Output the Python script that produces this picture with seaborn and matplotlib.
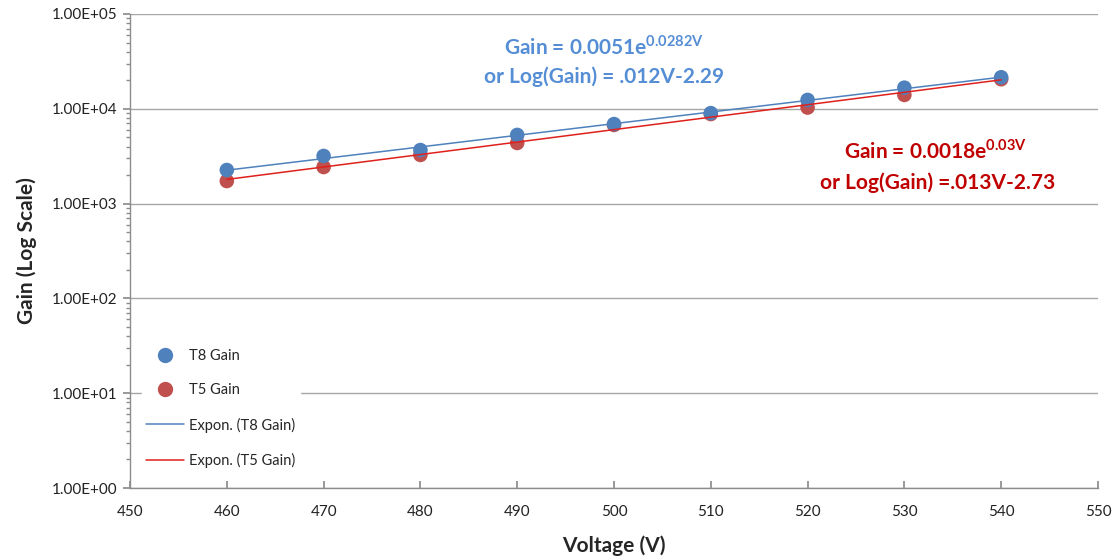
import numpy as np
import pandas as pd
import matplotlib
matplotlib.use("Agg")
import matplotlib.pyplot as plt
import matplotlib.ticker as mticker
from matplotlib.lines import Line2D
import seaborn as sns

voltage = [460, 470, 480, 490, 500, 510, 520, 530, 540]
t8_gain = [2260, 3180, 3670, 5300, 6900, 9000, 12400, 16700, 21500]
t5_gain = [1730, 2430, 3260, 4360, 6750, 8800, 10300, 14000, 20500]
ytick_vals = [1, 10, 100, 1000, 10000, 100000]
ytick_labels = ["1.00E+00", "1.00E+01", "1.00E+02", "1.00E+03", "1.00E+04", "1.00E+05"]
xtick_vals = [450, 460, 470, 480, 490, 500, 510, 520, 530, 540, 550]

BLUE = "#4F81BD"
RED_M = "#C0504D"
RED_L = "#E0201B"
BLUE_T = "#558ED5"
RED_T = "#C00000"

sns.set_theme(style="white")
plt.rcParams["font.family"] = ["Lato", "DejaVu Sans"]
plt.rcParams["mathtext.fontset"] = "custom"
plt.rcParams["mathtext.rm"] = "Lato"
plt.rcParams["mathtext.bf"] = "Lato:bold"

fig = plt.figure(figsize=(11.19, 5.59), dpi=100)
ax = fig.add_axes([0.1162, 0.127, 0.865, 0.848])

v = np.array(voltage, dtype=float)
fit8 = np.polyfit(v, np.log(t8_gain), 1)
fit5 = np.polyfit(v, np.log(t5_gain), 1)
df_fit = pd.DataFrame({
    "V": np.concatenate([v, v]),
    "G": np.concatenate([np.exp(np.polyval(fit8, v)), np.exp(np.polyval(fit5, v))]),
    "s": ["Expon. (T8 Gain)"] * len(v) + ["Expon. (T5 Gain)"] * len(v),
})

sns.scatterplot(x=voltage, y=t5_gain, ax=ax, color=RED_M, s=110, edgecolor="none",
                zorder=3, legend=False)
sns.scatterplot(x=voltage, y=t8_gain, ax=ax, color=BLUE, s=110, edgecolor="none",
                zorder=4, legend=False)
sns.lineplot(data=df_fit, x="V", y="G", hue="s", ax=ax,
             palette={"Expon. (T8 Gain)": BLUE, "Expon. (T5 Gain)": RED_L},
             linewidth=1.1, zorder=5, legend=False)

ax.set_yscale("log")
ax.set_ylim(1, 100000)
ax.set_xlim(450, 550)
ax.set_yticks(ytick_vals)
ax.set_yticklabels(ytick_labels)
ax.yaxis.set_minor_locator(mticker.LogLocator(base=10, subs=np.arange(2, 10)))
ax.yaxis.set_minor_formatter(mticker.NullFormatter())
ax.set_xticks(xtick_vals)
ax.set_xticklabels([str(x) for x in xtick_vals])

ax.grid(True, axis="y", which="major", color="#A6A6A6", linewidth=1.0)
ax.grid(False, axis="x")
ax.set_axisbelow(True)
for sp in ["top", "right"]:
    ax.spines[sp].set_visible(False)
for sp in ["left", "bottom"]:
    ax.spines[sp].set_color("#8C8C8C")
    ax.spines[sp].set_linewidth(1.0)

ax.tick_params(axis="y", which="major", direction="out", length=5, color="#8C8C8C",
               left=True, labelsize=11, labelcolor="#222222", pad=4)
ax.tick_params(axis="y", which="minor", direction="out", length=3, color="#8C8C8C", left=True)
ax.tick_params(axis="x", which="major", direction="in", length=5, color="#8C8C8C",
               bottom=True, labelsize=11, labelcolor="#222222", pad=12)

ax.set_xlabel("Voltage (V)", fontsize=15, fontweight="bold", labelpad=12)
ax.set_ylabel("Gain (Log Scale)", fontsize=15, fontweight="bold", labelpad=11)

ax.text(0.4896, 0.932, r"Gain = 0.0051e$^{\mathbf{0.0282V}}$", transform=ax.transAxes,
        ha="center", va="center", color=BLUE_T, fontsize=15, fontweight="bold")
ax.text(0.4896, 0.867, "or Log(Gain) = .012V-2.29", transform=ax.transAxes,
        ha="center", va="center", color=BLUE_T, fontsize=15, fontweight="bold")
ax.text(0.832, 0.711, r"Gain = 0.0018e$^{\mathbf{0.03V}}$", transform=ax.transAxes,
        ha="center", va="center", color=RED_T, fontsize=15, fontweight="bold")
ax.text(0.834, 0.643, "or Log(Gain) =.013V-2.73", transform=ax.transAxes,
        ha="center", va="center", color=RED_T, fontsize=15, fontweight="bold")

handles = [
    Line2D([], [], marker="o", linestyle="none", color=BLUE, markersize=10),
    Line2D([], [], marker="o", linestyle="none", color=RED_M, markersize=10),
    Line2D([], [], color=BLUE, linewidth=1.1),
    Line2D([], [], color=RED_L, linewidth=1.1),
]
labels = ["T8 Gain", "T5 Gain", "Expon. (T8 Gain)", "Expon. (T5 Gain)"]
leg = ax.legend(handles, labels, loc="lower left", bbox_to_anchor=(0.012, 0.033),
                frameon=True, facecolor="white", edgecolor="white", framealpha=1,
                fontsize=10.5, handlelength=2.6, handletextpad=0.35,
                labelspacing=1.4, borderpad=0.3, borderaxespad=0.0)
leg.set_zorder(6)

fig.savefig("out.png", dpi=100)
